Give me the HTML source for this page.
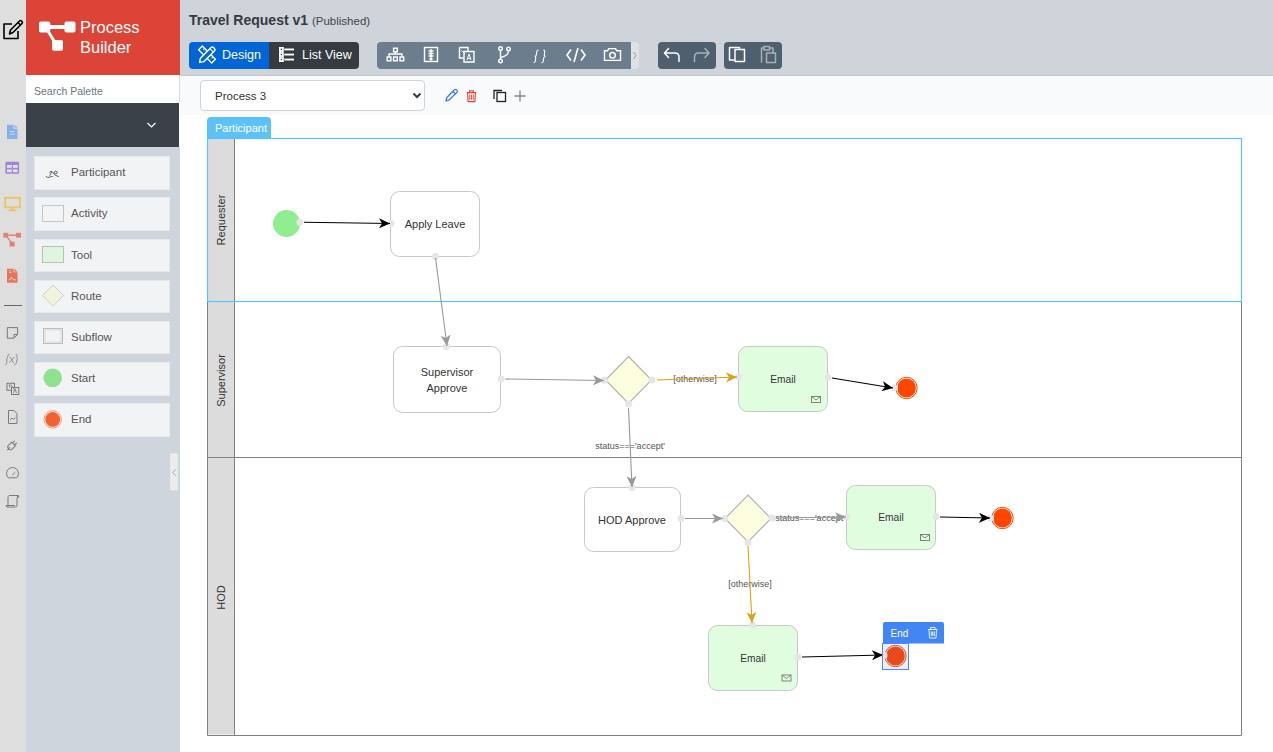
<!DOCTYPE html>
<html><head><meta charset="utf-8">
<style>
*{box-sizing:border-box;margin:0;padding:0}
html,body{width:1273px;height:752px;overflow:hidden;background:#fff;font-family:"Liberation Sans",sans-serif;position:relative}
.a{position:absolute}
#strip{left:0;top:0;width:26px;height:752px;background:#dedede}
#logo{left:26px;top:0;width:154px;height:75px;background:#db4437}
#search{left:26px;top:75px;width:154px;height:28px;background:#fff;font-size:10.5px;color:#6c757d;padding:10px 0 0 8px;border-right:1px solid #dcdcdc}
#dark{left:26px;top:103px;width:153px;height:44px;background:#3a4148}
#side{left:26px;top:147px;width:154px;height:605px;background:#ced5dc}
.pi{position:absolute;left:34px;width:136px;height:33.6px;background:#f2f3f5;font-size:11.5px;color:#555;border:1px solid #e6e8eb}
.pi span{position:absolute;left:36px;top:9px}
#topbar{left:180px;top:0;width:1093px;height:75px;background:#ced4da}
#sub{left:180px;top:75px;width:1093px;height:40px;background:#f9fafb;border-top:1px solid #c3c8cd}
svg{position:absolute;overflow:visible}
.lt{font-family:"Liberation Sans",sans-serif;font-size:11px;fill:#333}
</style></head><body>
<div class="a" id="strip"></div>
<div class="a" id="logo"></div>
<div class="a" id="search">Search Palette</div>
<div class="a" id="dark"></div>
<div class="a" id="side"></div>
<div class="pi" style="top:156.2px"><span>Participant</span></div>
<div class="pi" style="top:197.4px"><span>Activity</span></div>
<div class="pi" style="top:238.5px"><span>Tool</span></div>
<div class="pi" style="top:279.7px"><span>Route</span></div>
<div class="pi" style="top:320.9px"><span>Subflow</span></div>
<div class="pi" style="top:362.1px"><span>Start</span></div>
<div class="pi" style="top:403.2px"><span>End</span></div>
<div class="a" id="topbar"></div>
<div class="a" id="sub"></div>



<!-- logo -->
<svg style="left:0;top:0" width="180" height="752">
  <g fill="#fff">
    <rect x="39" y="21.5" width="11.3" height="11" rx="1.8"/>
    <rect x="64.5" y="21.5" width="11" height="11" rx="1.8"/>
    <rect x="52" y="40" width="11" height="10.8" rx="1.8"/>
    <rect x="49" y="25" width="16" height="4"/>
    <path d="M46.5 31.5 L49.3 30.5 L55.5 40.5 L52.7 41.5 Z"/>
  </g>
  <text x="80" y="32.5" font-family="Liberation Sans" font-size="16.5" fill="#fff">Process</text>
  <text x="80" y="52.5" font-family="Liberation Sans" font-size="16.5" fill="#fff">Builder</text>
  <!-- dark bar chevron -->
  <path d="M147.5 123 L151.5 127 L155.5 123" stroke="#fff" stroke-width="1.2" fill="none"/>
  <!-- palette icons -->
  <path d="M45.8 176.4 Q47.5 177.9 49.5 177.2 Q51 176.5 52.8 176.5 M49.3 172.6 Q50.3 171.2 51.8 171.4 L49.8 175.6 M51.8 171.4 L55.3 175.3 L58.8 176.6 M55.8 171.2 A1.4 1.3 0 1 1 55.8 173.8 A1.4 1.3 0 1 1 55.8 171.2" stroke="#555" stroke-width="0.95" fill="none"/>
  <rect x="42.5" y="205.5" width="21" height="16" fill="#f3f4f6" stroke="#c6c6c6"/>
  <rect x="42.5" y="246.5" width="21" height="16" fill="#ddf7dd" stroke="#bdbdbd"/>
  <path d="M53 285 L63.5 295.5 L53 306 L42.5 295.5 Z" fill="#f1f4dc" stroke="#cfcfcf"/>
  <rect x="43.5" y="328.5" width="19" height="15" fill="none" stroke="#bdbdbd"/>
  <rect x="45" y="330" width="16" height="12" fill="none" stroke="#d0d0d0" stroke-width="0.8"/>
  <circle cx="52.7" cy="377.8" r="9.3" fill="#8fe38f"/>
  <circle cx="52.7" cy="419.4" r="8.7" fill="none" stroke="#f47a5a" stroke-width="0.8"/>
  <circle cx="52.7" cy="419.4" r="7.4" fill="#f2622f"/>
  <!-- collapse handle -->
  <rect x="170.2" y="453.4" width="7.7" height="37" fill="#ececec"/>
  <path d="M176.3 469 L172.6 472.5 L176.3 476" stroke="#9a9a9a" stroke-width="0.8" fill="none"/>
</svg>
<!-- left strip icons -->
<svg style="left:0;top:0" width="26" height="752">
  <g fill="none" stroke="#000" stroke-width="1.6" stroke-linejoin="round">
    <path d="M12 24 H4 V38.5 H18 V31"/>
    <path d="M9.5 34 L10.5 30 L19.5 21 Q20.5 20 21.5 21 L22 21.5 Q23 22.5 22 23.5 L13 32.5 Z"/>
    <path d="M18 22.5 L20.5 25"/>
  </g>
  <!-- doc blue -->
  <path d="M7 124.8 H13.5 V128.8 H17.5 V139 H7 Z" fill="#8ab0e8"/>
  <path d="M14.5 124.8 L17.5 127.8 H14.5 Z" fill="#8ab0e8"/>
  <path d="M10 131.6 H14.5 M10 134.2 H14.5" stroke="#cfdcf3" stroke-width="1"/>
  <!-- table purple -->
  <rect x="5.4" y="161.7" width="13.7" height="12" rx="1.2" fill="#a285d0"/>
  <g fill="#e4e0ee"><rect x="7" y="165" width="4.8" height="2.8"/><rect x="12.9" y="165" width="4.8" height="2.8"/><rect x="7" y="169.4" width="4.8" height="2.8"/><rect x="12.9" y="169.4" width="4.8" height="2.8"/></g>
  <!-- monitor yellow -->
  <g fill="none" stroke="#f0c35a" stroke-width="1.8">
    <rect x="5.2" y="197.8" width="14.6" height="9.6"/>
    <path d="M12.5 207.4 V210 M8.5 210.3 H16.5"/>
  </g>
  <!-- tree red -->
  <g fill="#e58077">
    <rect x="3.3" y="232.8" width="4.8" height="4.8"/><rect x="16" y="232.8" width="5" height="4.8"/><rect x="9.6" y="241.6" width="5" height="4.9"/>
    <path d="M8 234.6 H16 V236 H8 Z M6.3 237 L7.7 236.5 L11.6 241.8 L10.3 242.3 Z"/>
  </g>
  <!-- pdf red -->
  <path d="M7 268.7 H13.5 V272.3 H17.5 V282.8 H7 Z" fill="#e87458"/>
  <path d="M14.3 268.7 L17.5 271.7 H14.3 Z" fill="#e87458"/>
  <path d="M9 270.8 H11.5 M9 272.6 H11.5" stroke="#f5cfc5" stroke-width="0.8"/>
  <path d="M8.8 279.8 Q10.5 280.3 11.5 277 Q12.5 280.5 16 280" stroke="#f5d6ce" stroke-width="0.9" fill="none"/>
  <!-- separator -->
  <path d="M4 305.5 H22" stroke="#666" stroke-width="1"/>
  <g fill="none" stroke="#7a7a7a" stroke-width="1">
    <path d="M7.3 327.6 H17.6 V334.5 L13.9 338.2 H7.3 Z M17.6 334.5 H14 V338.2"/>
    <path d="M8.5 410.5 H14 L17 413.5 V423.5 H8.5 Z M10 420 L12 418 L13.5 419.5 L15.5 417.5"/>
    <g transform="translate(13,444.5) rotate(-45)"><path d="M-8 0 H-4.2 M-4.2 -2.6 H0.8 V2.6 H-4.2 Q-6 2.6 -6 0 Q-6 -2.6 -4.2 -2.6 Z M0.8 -1.4 H3.8 M0.8 1.4 H3.8"/></g>
    <path d="M8.3 477.8 A6 6 0 1 1 16.7 477.8 Z M12.3 475 L15.2 472.3"/>
    <path d="M9 495.5 H18.5 Q17 497 17 499 V505.5 Q17 507 15.5 507 H7 Q6 507 6 505.5 H14.5 V506 M9 495.5 Q8 496 8 498 V505.5 M17 495.5 Q18.5 495.5 19 497 H17"/>
    <rect x="7" y="383.3" width="7.5" height="7"/><rect x="11.5" y="387.5" width="7.3" height="7" fill="#dedede"/><path d="M11 384.8 L15.5 391.2 M13.5 393 L15 388.8 L16.5 393" stroke-width="0.8"/><path d="M8.5 385 H11 M9.7 385 V388" stroke-width="0.7"/>
  </g>
  <g fill="none" stroke="#8c8c8c" stroke-width="0.9" stroke-linecap="round">
    <path d="M9.3 354.3 Q8 354.3 7.8 356 L7.5 358.3 Q7.3 359.5 6 359.6 Q7.1 359.8 6.9 361 L6.6 363.2 Q6.4 364.7 5.5 364.8"/>
    <path d="M16.2 354.3 Q17.3 354.3 17.1 355.8 L16.9 358.2 Q16.8 359.4 18 359.6 Q16.8 359.8 16.6 361 L16.3 363 Q16 364.7 14.6 364.8"/>
    <path d="M10.3 357.2 L13.4 362.6 M14.2 357.2 L9.5 362.6"/>
  </g>
</svg>

<!-- top bar content -->
<div class="a" style="left:189px;top:12px;font-size:14px;font-weight:bold;color:#343a40;white-space:nowrap">Travel Request v1 <span style="font-weight:normal;font-size:11.5px;color:#444">(Published)</span></div>
<div class="a" style="left:189px;top:42px;width:80px;height:27px;background:#0066d7;border-radius:4px 0 0 4px"></div>
<div class="a" style="left:269px;top:42px;width:90px;height:27px;background:#353b41;border-radius:0 4px 4px 0"></div>
<div class="a" style="left:222px;top:48px;font-size:12.5px;color:#fff">Design</div>
<div class="a" style="left:302px;top:48px;font-size:12.5px;color:#fff">List View</div>
<svg style="left:0;top:0" width="1273" height="120">
  <!-- design icon: crossed pencil & ruler -->
  <g stroke="#fff" stroke-width="1.4" fill="#0066d7" stroke-linejoin="round">
    <g transform="translate(207,54.5) rotate(45)"><rect x="-9.3" y="-2.6" width="18.6" height="5.2"/><path d="M-6 -2.6 V-0.6 M-3 -2.6 V-1.2 M3 -2.6 V-1.2 M6 -2.6 V-0.6" stroke-width="1"/></g>
    <g transform="translate(207,55) rotate(-45)"><path d="M-10.5 0 L-7 -2.4 H7.8 Q10 -2.4 10 0 Q10 2.4 7.8 2.4 H-7 Z"/><path d="M6.5 -2.4 V2.4" stroke-width="1"/></g>
  </g>
  <!-- list icon -->
  <g fill="#fff">
    <rect x="279" y="47" width="4.8" height="15"/>
    <rect x="284.3" y="48.5" width="9.7" height="1.9"/><rect x="284.3" y="53.6" width="9.7" height="1.9"/><rect x="284.3" y="58.6" width="9.7" height="1.9"/>
    <g fill="#2f3f55"><circle cx="281.4" cy="49.4" r="0.8"/><circle cx="281.4" cy="54.5" r="0.8"/><circle cx="281.4" cy="59.5" r="0.8"/></g>
    <rect x="279" y="51.8" width="4.8" height="0.6" fill="#bbb"/><rect x="279" y="56.8" width="4.8" height="0.6" fill="#bbb"/>
  </g>
  <!-- tool group -->
  <rect x="377" y="42" width="262" height="27" rx="4" fill="#dee2e6"/>
  <path d="M381 42 H631 V69 H381 Q377 69 377 65 V46 Q377 42 381 42 Z" fill="#6c7e8d"/>
  <path d="M633.5 52 L636 55.5 L633.5 59" stroke="#999" stroke-width="1" fill="none"/>
  <g stroke="#fff" stroke-width="1.4" fill="none">
    <!-- sitemap -->
    <rect x="393.6" y="48.2" width="3.7" height="3.6"/><rect x="387.2" y="57" width="3.7" height="3.8"/><rect x="393.6" y="57" width="3.7" height="3.8"/><rect x="400" y="57" width="3.7" height="3.8"/>
    <path d="M395.45 51.8 V54 M389 57 V54 H401.9 V57"/>
    <!-- code-box -->
    <rect x="424.5" y="47.5" width="13" height="14"/>
    <path d="M431 49 V60 M428.5 51 H433.5 M428.5 53.5 H433.5 M428.5 56 H433.5 M429.5 58.5 L431 60 L432.5 58.5"/>
    <!-- translate -->
    <path d="M459.5 47.5 H468 V51.5 M459.5 47.5 V58 H463.5"/>
    <path d="M464 51.5 H474 V62 H464 Z"/>
    <path d="M461.5 50.5 L465 54 M467 60 L469 54 L471 60 M467.5 58.5 H470.5" stroke-width="1"/>
    <!-- branch -->
    <circle cx="500.5" cy="48.5" r="1.8"/><circle cx="500.5" cy="61" r="1.8"/><circle cx="508.5" cy="49" r="1.8"/>
    <path d="M500.5 50.3 V59.2 M508.5 50.8 Q508.5 56 500.8 57.5"/>
    <!-- braces -->
    <path d="M538.5 50 Q537 50 536.8 51.5 L536.4 54.5 Q536.2 56.2 534.8 56.3 Q535.9 56.5 535.7 58 L535.3 61 Q535.1 62.8 533.6 62.8" stroke-width="1.1"/>
    <path d="M543.3 50 Q544.8 50 544.7 51.5 L544.3 54.5 Q544.1 56.2 545.5 56.3 Q543.9 56.5 543.7 58 L543.3 61 Q543.1 62.8 541.5 62.8" stroke-width="1.1"/>
    <!-- code -->
    <path d="M571 49.5 L567 55 L571 60.5 M581 49.5 L585 55 L581 60.5 M578 48 L574 62" stroke-width="1.6"/>
    <!-- camera -->
    <path d="M604.5 50.8 H607.5 L608.8 48.6 H615.5 L616.8 50.8 H620.5 V60.4 H604.5 Z"/>
    <circle cx="612.5" cy="55.3" r="2.8"/>
  </g>
  <!-- undo group -->
  <rect x="658" y="42" width="58" height="27" rx="4" fill="#4e5f6e"/>
  <rect x="724" y="42" width="58" height="27" rx="4" fill="#4e5f6e"/>
  <g stroke="#fff" stroke-width="1.5" fill="none" stroke-linecap="round" stroke-linejoin="round">
    <path d="M668.5 48.5 L664.5 53 L668.5 57.5 M665 53 H675 Q679 53 679 57 V61.5"/>
    <path d="M729.5 47.5 H739.5 V49 M729.5 47.5 V60 H734"/>
    <rect x="735" y="49.5" width="9.5" height="12"/>
  </g>
  <g stroke="#a9b1b8" stroke-width="1.5" fill="none" stroke-linecap="round" stroke-linejoin="round">
    <path d="M705 48.5 L709 53 L705 57.5 M708.5 53 H698.5 Q694.5 53 694.5 57 V61.5"/>
    <path d="M761.5 62 V48 H764 V46.5 H769.5 V48 H773 V53 M764 48 V50 H769.5 V48"/>
    <rect x="766.5" y="53" width="9" height="9.5"/>
  </g>
</svg>


<!-- sub bar -->
<div class="a" style="left:200px;top:80px;width:225px;height:31px;background:#fff;border:1px solid #ced4da;border-radius:4px"></div>
<div class="a" style="left:215px;top:90px;font-size:11.5px;color:#333">Process 3</div>
<svg style="left:0;top:0" width="1273" height="120">
  <path d="M413.5 93.5 L417 97 L420.5 93.5" stroke="#343a40" stroke-width="2" fill="none"/>
  <!-- pencil -->
  <g fill="none" stroke="#3b7cf1" stroke-width="1.3" stroke-linejoin="round">
    <path d="M446 101 L446.8 97.5 L454.5 89.8 Q455.5 89 456.5 89.8 L457 90.3 Q457.8 91.3 457 92.2 L449.3 99.9 Z"/>
    <path d="M453 91.5 L455.5 94"/>
  </g>
  <!-- trash -->
  <g fill="none" stroke="#f03c2e" stroke-width="1.1">
    <path d="M466.8 92.6 H476.2 M469.6 92.6 V90.8 H473.4 V92.6 M467.6 92.6 L468.1 101.6 H474.9 L475.4 92.6"/><path d="M469.7 94.6 V99.8 M471.5 94.6 V99.8 M473.3 94.6 V99.8" stroke-width="0.9"/>
  </g>
  <!-- copy -->
  <g fill="none" stroke="#222" stroke-width="1.3">
    <path d="M494 99 V90.5 H502"/>
    <rect x="497" y="92.5" width="8.5" height="9"/>
  </g>
  <!-- plus -->
  <path d="M520 90.5 V101.5 M514.5 96 H525.5" stroke="#888" stroke-width="1.3" fill="none"/>
</svg>

<!-- canvas -->
<svg style="left:0;top:0" width="1273" height="752" viewBox="0 0 1273 752">
  <!-- participant tab -->
  <path d="M207 138 V121 Q207 117 211 117 H267 Q271 117 271 121 V138 Z" fill="#5bc2f7"/>
  <text x="215" y="132" font-size="11" fill="#fff" font-family="Liberation Sans">Participant</text>
  <!-- lane headers -->
  <rect x="207.5" y="138.5" width="27" height="596" fill="#dcdcdc"/>
  <!-- lane lines -->
  <g stroke="#808080" stroke-width="1" fill="none">
    <path d="M207.5 301.5 V735.5 H1241.5 V301.5"/>
    <path d="M207.5 457.5 H1241.5"/>
    <path d="M234.5 138.5 V735.5"/>
  </g>
  <rect x="207.5" y="138.5" width="1034" height="163" fill="none" stroke="#5bc2f7" stroke-width="1.2"/>
  <text class="lt" transform="translate(225,220) rotate(-90)" text-anchor="middle">Requester</text>
  <text class="lt" transform="translate(225,380.5) rotate(-90)" text-anchor="middle">Supervisor</text>
  <text class="lt" transform="translate(225,597.5) rotate(-90)" text-anchor="middle">HOD</text>

  <!-- nodes -->
  <defs>
    <marker id="ab" viewBox="0 0 11 10" refX="11" refY="5" markerWidth="11" markerHeight="10" markerUnits="userSpaceOnUse" orient="auto"><path d="M0 0 L11 5 L0 10 L3 5 Z" fill="#000"/></marker>
    <marker id="ag" viewBox="0 0 11 10" refX="11" refY="5" markerWidth="11" markerHeight="10" markerUnits="userSpaceOnUse" orient="auto"><path d="M0 0 L11 5 L0 10 L3 5 Z" fill="#999"/></marker>
    <marker id="ao" viewBox="0 0 11 10" refX="11" refY="5" markerWidth="11" markerHeight="11" markerUnits="userSpaceOnUse" orient="auto"><path d="M0 0 L11 5 L0 10 L3 5 Z" fill="#d9a514"/></marker>
  </defs>
  <g font-family="Liberation Sans" font-size="11" fill="#333" text-anchor="middle">
  <!-- requester -->
  <circle cx="286.5" cy="223.5" r="13.5" fill="#90ee90"/>
  <rect x="390.5" y="191.5" width="89" height="65" rx="9" fill="#fff" stroke="#c8c8c8"/>
  <text x="435" y="228">Apply Leave</text>
  <!-- supervisor -->
  <rect x="393.5" y="346.5" width="107" height="66" rx="9" fill="#fff" stroke="#c8c8c8"/>
  <text x="447" y="376">Supervisor</text>
  <text x="447" y="392">Approve</text>
  <path d="M628.5 356.5 L651.5 380 L628.5 403.5 L605.5 380 Z" fill="#fcfcdf" stroke="#b4b4b4" stroke-width="1.2"/>
  <rect x="738.5" y="346.5" width="89" height="65" rx="9" fill="#e0fde0" stroke="#c8c8c8"/>
  <text x="783" y="383" font-size="10.2">Email</text>
  <circle cx="906.5" cy="388" r="9.4" fill="#ff4500"/>
  <circle cx="906.5" cy="388" r="10.7" fill="none" stroke="#ff4500" stroke-width="1"/>
  <!-- hod -->
  <rect x="584.5" y="487.5" width="96" height="64" rx="9" fill="#fff" stroke="#c8c8c8"/>
  <text x="632" y="524">HOD Approve</text>
  <path d="M748 495 L771 518.5 L748 542 L725 518.5 Z" fill="#fcfcdf" stroke="#b4b4b4" stroke-width="1.2"/>
  <rect x="846.5" y="485.5" width="89" height="64" rx="9" fill="#e0fde0" stroke="#c8c8c8"/>
  <text x="891" y="521" font-size="10.2">Email</text>
  <circle cx="1002.5" cy="518" r="9.4" fill="#ff4500"/>
  <circle cx="1002.5" cy="518" r="10.7" fill="none" stroke="#ff4500" stroke-width="1"/>
  <rect x="708.5" y="625.5" width="89" height="65" rx="9" fill="#e0fde0" stroke="#c8c8c8"/>
  <text x="753" y="662" font-size="10.2">Email</text>
  <rect x="882.5" y="643.5" width="26" height="26" fill="#e9f0fb"/>
  <circle cx="895.5" cy="656" r="9.4" fill="#e84a1a"/>
  <circle cx="895.5" cy="656" r="10.7" fill="none" stroke="#e84a1a" stroke-width="1"/>
  </g>
  <!-- labels -->
  <g font-family="Liberation Sans" font-size="9" fill="#555" text-anchor="middle">
    <text x="695" y="382">[otherwise]</text>
    <text x="630" y="449">status==='accept'</text>
    <text x="810" y="521">status==='accept'</text>
    <text x="750" y="587">[otherwise]</text>
  </g>
  <!-- dots -->
  <g fill="#e6e6e6">
    <circle cx="300" cy="222.2" r="3.5"/><circle cx="391" cy="223.5" r="3.5"/>
    <circle cx="435.5" cy="256.5" r="3.5"/><circle cx="446.5" cy="346.5" r="3.5"/>
    <circle cx="501" cy="379" r="3.5"/><circle cx="604.5" cy="380.3" r="3.5"/>
    <circle cx="652" cy="380" r="3.5"/><circle cx="628.5" cy="404" r="3.5"/>
    <circle cx="738.5" cy="377" r="3.5"/><circle cx="828" cy="377.5" r="3.5"/>
    <circle cx="632" cy="487.5" r="3.5"/><circle cx="681" cy="518.5" r="3.5"/>
    <circle cx="724.5" cy="518.5" r="3.5"/><circle cx="772" cy="518" r="3.5"/>
    <circle cx="748" cy="542.5" r="3.5"/><circle cx="846.5" cy="517" r="3.5"/>
    <circle cx="936" cy="516.5" r="3.5"/><circle cx="752.5" cy="625" r="3.5"/>
    <circle cx="798" cy="657" r="3.5"/>
    <circle cx="894.5" cy="387.8" r="3.5"/><circle cx="990.5" cy="518" r="3.5"/><circle cx="884" cy="655.5" r="3.5"/>
  </g>

  <!-- edges -->
  <g fill="none" stroke-width="1.1">
    <path d="M304 222.2 L390 223.5" stroke="#000" marker-end="url(#ab)"/>
    <path d="M435.5 258 L447 346" stroke="#999" marker-end="url(#ag)"/>
    <path d="M505 379 L604 380.5" stroke="#999" marker-end="url(#ag)"/>
    <path d="M657 380 L737 377" stroke="#d9a514" marker-end="url(#ao)"/>
    <path d="M832 378 L893 388" stroke="#000" marker-end="url(#ab)"/>
    <path d="M628.5 408 L632 487" stroke="#999" marker-end="url(#ag)"/>
    <path d="M685 518.5 L723 518.5" stroke="#999" marker-end="url(#ag)"/>
    <path d="M776 518 L846 517" stroke="#999" marker-end="url(#ag)"/>
    <path d="M940 517 L990 518" stroke="#000" marker-end="url(#ab)"/>
    <path d="M748 546 L752 623" stroke="#d9a514" marker-end="url(#ao)"/>
    <path d="M802 657 L883 655" stroke="#000" marker-end="url(#ab)"/>
  </g>
  <!-- envelopes -->
  <g fill="none" stroke="#777" stroke-width="0.9">
    <rect x="811.5" y="396.5" width="9" height="6"/><path d="M811.5 396.5 L816 400 L820.5 396.5"/>
    <rect x="920.5" y="534.5" width="9" height="6"/><path d="M920.5 534.5 L925 538 L929.5 534.5"/>
    <rect x="782" y="675" width="9" height="6"/><path d="M782 675 L786.5 678.5 L791 675"/>
  </g>
  <!-- end toolbar -->
  <path d="M883 643.5 V624 Q883 622 885 622 H942 Q944 622 944 624 V643.5 Z" fill="#4285f4"/>
  <text x="890.5" y="637" font-family="Liberation Sans" font-size="10" fill="#fff">End</text>
  <g fill="none" stroke="#e8f0fe" stroke-width="1">
    <path d="M928 629.5 H937.5 M930.5 629.5 V627.5 H935 V629.5 M929 629.5 L929.5 638 H936 L936.5 629.5 M931.3 631.5 V636 M932.75 631.5 V636 M934.2 631.5 V636"/>
  </g>
  <rect x="882.5" y="643.5" width="26" height="26" fill="none" stroke="#4a8af4" stroke-width="1"/>
</svg>
</body></html>
